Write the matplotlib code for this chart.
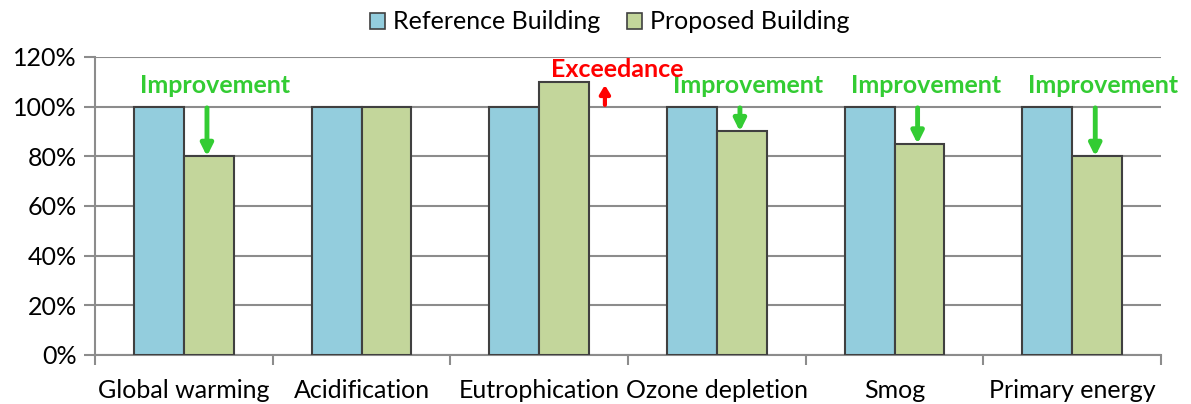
import matplotlib.pyplot as plt
import numpy as np
from matplotlib.ticker import PercentFormatter

# Datos del grafico
categorias = ['Global warming', 'Acidification', 'Eutrophication',
              'Ozone depletion', 'Smog', 'Primary energy']
referencia = [100, 100, 100, 100, 100, 100]
propuesto = [80, 100, 110, 90, 85, 80]
etiquetas_serie = ['Reference Building', 'Proposed Building']

# Grupos con mejora (indice de categoria)
mejoras = [0, 3, 4, 5]
excedencias = [2]

plt.rcParams['font.family'] = ['Lato', 'DejaVu Sans']

color_ref = '#93CDDD'
color_prop = '#C3D69B'
color_borde = '#404040'
color_grid = '#8C8C8C'
verde = '#33CC33'

fig = plt.figure(figsize=(11.91, 4.04), dpi=100)
ax = fig.add_axes([0.0798, 0.1213, 0.8950, 0.7377])

x = np.arange(len(categorias))
ancho = 0.281

ax.bar(x - ancho / 2, referencia, ancho, color=color_ref, edgecolor=color_borde,
       linewidth=1.5, label=etiquetas_serie[0], zorder=3)
ax.bar(x + ancho / 2, propuesto, ancho, color=color_prop, edgecolor=color_borde,
       linewidth=1.5, label=etiquetas_serie[1], zorder=3)

ax.set_xlim(-0.5, len(categorias) - 0.5)
ax.set_ylim(0, 120)
ax.set_yticks(np.arange(0, 121, 20))
ax.yaxis.set_major_formatter(PercentFormatter(decimals=0))
ax.set_xticks(x)
ax.set_xticklabels(categorias)
ax.set_xticks(np.arange(-0.5, len(categorias)), minor=True)
ax.tick_params(axis='x', which='major', length=0, pad=17, labelsize=18)
ax.tick_params(axis='x', which='minor', length=7, color=color_grid, width=1.5)
ax.tick_params(axis='y', length=8, color=color_grid, width=1.5, labelsize=18, pad=5)

ax.grid(axis='y', color=color_grid, linewidth=1.5, zorder=0)
ax.set_axisbelow(True)
for lado in ['top', 'right']:
    ax.spines[lado].set_visible(False)
ax.spines['left'].set_color(color_grid)
ax.spines['left'].set_linewidth(1.5)
ax.spines['bottom'].set_color(color_grid)
ax.spines['bottom'].set_linewidth(1.5)

# Anotaciones de mejora
for i in mejoras:
    ax.text(i + 0.175, 108.7, 'Improvement', color=verde, fontsize=18,
            fontweight='bold', ha='center', va='center', zorder=5)
    ax.annotate('', xy=(i + 0.13, propuesto[i]), xytext=(i + 0.13, 99.5),
                arrowprops=dict(arrowstyle='-|>,head_width=0.35,head_length=0.7',
                                color=verde, lw=3.5, shrinkA=0, shrinkB=0),
                zorder=5)

# Anotacion de excedencia
for i in excedencias:
    ax.text(i + 0.44, 115.0, 'Exceedance', color='red', fontsize=18,
            fontweight='bold', ha='center', va='center', zorder=5)
    ax.annotate('', xy=(i + 0.37, 108.7), xytext=(i + 0.37, 100.7),
                arrowprops=dict(arrowstyle='-|>,head_width=0.3,head_length=0.5',
                                color='red', lw=3, shrinkA=0, shrinkB=0),
                zorder=5)

leg = fig.legend(loc='upper center', bbox_to_anchor=(0.512, 1.03), ncol=2,
                 frameon=False, fontsize=18, handlelength=0.6, handleheight=0.6,
                 handletextpad=0.3, columnspacing=1.1)
for h in leg.legend_handles:
    h.set_linewidth(1.2)

fig.savefig('out.png', dpi=100)
